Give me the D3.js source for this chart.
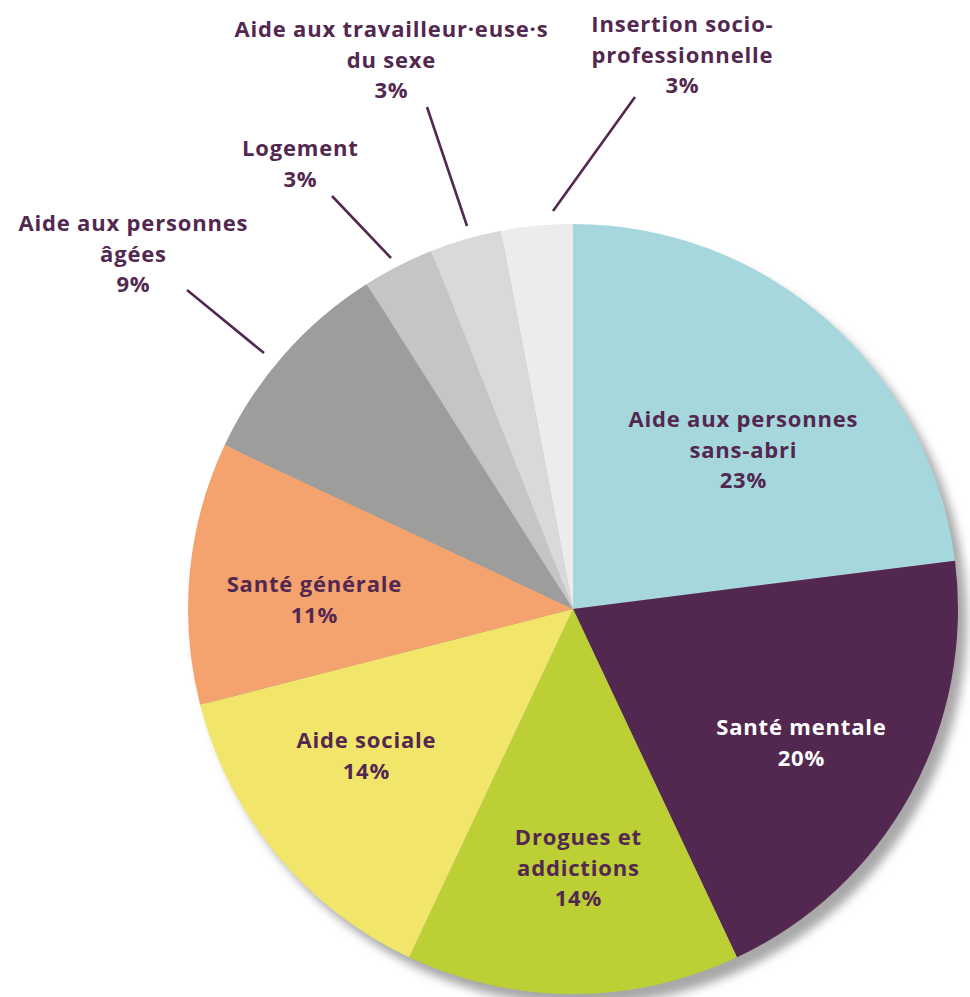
<!DOCTYPE html>
<html>
<head>
<meta charset="utf-8">
<script src="https://cdn.jsdelivr.net/npm/d3@7"></script>
<style>
  html, body { margin: 0; padding: 0; background: #ffffff; }
  svg { display: block; }
  text { font-family: "Open Sans", Lato, sans-serif; font-weight: 700; }
</style>
</head>
<body>
<script>
// Domains of activity and their share (%)
const categories = [
  "Aide aux personnes sans-abri",
  "Santé mentale",
  "Drogues et addictions",
  "Aide sociale",
  "Santé générale",
  "Aide aux personnes âgées",
  "Logement",
  "Aide aux travailleur·euse·s du sexe",
  "Insertion socio-professionnelle"
];
const values = [23, 20, 14, 14, 11, 9, 3, 3, 3];
const colors = ["#a6d7dd", "#532850", "#bccf35", "#f1e66a", "#f4a36e", "#9d9d9b", "#c5c5c5", "#d9d9d9", "#ececec"];

// Label lines for each slice (value line appended separately)
const labelLines = [
  ["Aide aux personnes", "sans-abri"],
  ["Santé mentale"],
  ["Drogues et", "addictions"],
  ["Aide sociale"],
  ["Santé générale"],
  ["Aide aux personnes", "âgées"],
  ["Logement"],
  ["Aide aux travailleur·euse·s", "du sexe"],
  ["Insertion socio-", "professionnelle"]
];

const W = 970, H = 997;
const cx = 573, cy = 609, R = 385;
const ink = "#532850";
const fontSize = 22;
const targetWidth = 229; // width of "Aide aux personnes"

// Label placement: centre x and first baseline y (page coordinates)
const labelPos = [
  [743, 427], [801, 735], [578, 845], [366, 748], [314, 592],
  [133, 231], [300, 156], [391, 37], [682, 32]
];
// Leader lines for the small outer slices: [x1, y1, x2, y2]
const leaders = [
  null, null, null, null, null,
  [187, 290, 264, 353],
  [332, 196, 391, 258],
  [427, 107, 467, 226],
  [635, 97, 553, 211]
];
const lineGap = 30.5;

const svg = d3.select("body").append("svg")
  .attr("width", W).attr("height", H);

const defs = svg.append("defs");
const blur = defs.append("filter").attr("id", "soft")
  .attr("x", "-20%").attr("y", "-20%").attr("width", "140%").attr("height", "140%");
blur.append("feGaussianBlur").attr("stdDeviation", 5);

const data = categories.map((c, i) => ({ name: c, value: values[i], color: colors[i], i }));

const pie = d3.pie().sort(null).value(d => d.value);
const arc = d3.arc().innerRadius(0).outerRadius(R);
const arcs = pie(data);

const g = svg.append("g").attr("transform", `translate(${cx},${cy})`);

// soft shadow behind the disc
g.append("circle")
  .attr("cx", 9).attr("cy", 11).attr("r", R)
  .attr("fill", "#a8a8a8")
  .attr("filter", "url(#soft)");

g.selectAll("path.slice")
  .data(arcs)
  .join("path")
  .attr("class", "slice")
  .attr("d", arc)
  .attr("fill", d => d.data.color);

// leader lines
svg.selectAll("line.leader")
  .data(leaders.filter(l => l))
  .join("line")
  .attr("class", "leader")
  .attr("x1", d => d[0]).attr("y1", d => d[1])
  .attr("x2", d => d[2]).attr("y2", d => d[3])
  .attr("stroke", ink)
  .attr("stroke-width", 2.6);

// letter spacing so the label face runs as wide as the original typeface
const probe = svg.append("text").attr("font-size", fontSize).text("Aide aux personnes");
const baseW = probe.node().getComputedTextLength();
probe.remove();
const spacing = Math.max(0, (targetWidth - baseW) / 17);

// labels
const labels = svg.selectAll("text.lbl")
  .data(data)
  .join("text")
  .attr("class", "lbl")
  .attr("text-anchor", "middle")
  .attr("font-size", fontSize)
  .attr("letter-spacing", spacing)
  .attr("fill", d => d.i === 1 ? "#ffffff" : ink);

labels.each(function(d) {
  const t = d3.select(this);
  const lines = labelLines[d.i].concat([d.value + "%"]);
  const [x, y] = labelPos[d.i];
  lines.forEach((s, k) => {
    t.append("tspan").attr("x", x + spacing / 2).attr("y", y + k * lineGap).text(s);
  });
});
</script>
</body>
</html>
